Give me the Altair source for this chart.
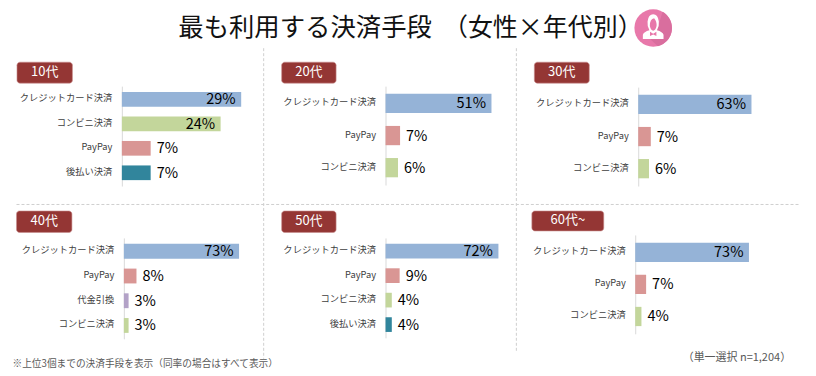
import altair as alt
import pandas as pd

FONT = "Noto Sans CJK JP"

# ---- data values ----
ages = ["10代", "20代", "30代", "40代", "50代", "60代~"]
cats_10 = ["クレジットカード決済", "コンビニ決済", "PayPay", "後払い決済"]
vals_10 = [29, 24, 7, 7]
cats_20 = ["クレジットカード決済", "PayPay", "コンビニ決済"]
vals_20 = [51, 7, 6]
cats_30 = ["クレジットカード決済", "PayPay", "コンビニ決済"]
vals_30 = [63, 7, 6]
cats_40 = ["クレジットカード決済", "PayPay", "代金引換", "コンビニ決済"]
vals_40 = [73, 8, 3, 3]
cats_50 = ["クレジットカード決済", "PayPay", "コンビニ決済", "後払い決済"]
vals_50 = [72, 9, 4, 4]
cats_60 = ["クレジットカード決済", "PayPay", "コンビニ決済"]
vals_60 = [73, 7, 4]
series = [(cats_10, vals_10), (cats_20, vals_20), (cats_30, vals_30),
          (cats_40, vals_40), (cats_50, vals_50), (cats_60, vals_60)]

colors = {"クレジットカード決済": "#95B3D7", "コンビニ決済": "#C3D69B", "PayPay": "#D99694",
          "後払い決済": "#31859C", "代金引換": "#B3A2C7"}

title_main = "最も利用する決済手段"
title_sub = "（女性×年代別）"
note_left = "※上位3個までの決済手段を表示（同率の場合はすべて表示）"
note_right = "（単一選択 n=1,204）"

# ---- layout (page pixels of the reference) ----
# panel: axis x, axis top, axis bottom, pixels per percent, badge x0, x1, y0, y1
layout = [
    (121.5, 85, 185, 4.12, 16.5, 72, 61, 82),
    (385.5, 85, 184, 2.08, 281.5, 336, 61, 82),
    (638.0, 86, 185, 1.80, 534, 589, 61, 82),
    (124.0, 237, 338, 1.58, 16.5, 72, 210, 231.5),
    (385.5, 237, 337, 1.57, 281.5, 336, 210, 231.5),
    (635.5, 234, 333, 1.56, 532, 604, 210, 230),
]
ROW_TOP = [85, 230]
ROW_H = [100, 110]
ROW_RIGHT = 800
one = alt.Data(values=[{"a": 1}])


def deco_text(text, x, y, size, color, align="left", weight=400):
    return alt.Chart(one).mark_text(font=FONT, fontSize=size, color=color, align=align,
                                    baseline="middle", fontWeight=weight).encode(
        x=alt.value(x), y=alt.value(y), text=alt.value(text))


def deco_rule(x1, y1, x2, y2):
    return alt.Chart(one).mark_rule(color="#CFCFCF", strokeDash=[3, 2], strokeWidth=1).encode(
        x=alt.value(x1), y=alt.value(y1), x2=alt.value(x2), y2=alt.value(y2))


def panel(i, panel_width, row):
    cats, vals = series[i]
    ax, top, bottom, rate, bx0, bx1, by0, by1 = layout[i]
    ox, oy = ax, ROW_TOP[row]
    df = pd.DataFrame({"cat": cats, "val": vals, "label": [f"{v}%" for v in vals],
                       "color": [colors[c] for c in cats]})
    x = alt.X("val:Q", axis=None, scale=alt.Scale(domain=[0, panel_width / rate], nice=False))
    y = alt.Y("cat:N", sort=cats, title=None,
              scale=alt.Scale(domain=cats, range=[top - oy, bottom - oy],
                              paddingInner=0.4, paddingOuter=0.24),
              axis=alt.Axis(ticks=False, labelFont=FONT, labelFontSize=9.3, labelColor="#404040",
                            labelPadding=10, labelOffset=-1, domainColor="#D9D9D9", domainWidth=1,
                            grid=False, labelLimit=200))
    base = alt.Chart(alt.Data(values=df.to_dict("records")))
    bars = base.mark_bar(clip=False).encode(x=x, y=y, color=alt.Color("color:N", scale=None))
    inside = base.transform_filter("datum.val >= 20").mark_text(
        font=FONT, fontSize=14.5, color="#000000", align="right", dx=-5.5, dy=1).encode(
        x=x, y=y, text="label:N")
    outside = base.transform_filter("datum.val < 20").mark_text(
        font=FONT, fontSize=14.5, color="#000000", align="left", dx=6, dy=1).encode(
        x=x, y=y, text="label:N")
    badge = alt.Chart(one).mark_rect(color="#943634", cornerRadius=3, stroke="#C98F8E",
                                     strokeWidth=0.6).encode(
        x=alt.value(bx0 - ox), x2=alt.value(bx1 - ox),
        y=alt.value(by0 - oy), y2=alt.value(by1 - oy))
    badge_t = deco_text(ages[i], (bx0 + bx1) / 2 - ox, (by0 + by1) / 2 - oy - 1, 13, "#FFFFFF", "center")
    layers = [bars, inside, outside, badge, badge_t]

    if i == 0:
        P = lambda px: px - ox
        Q = lambda py: py - oy
        anchor = alt.Chart(one).mark_rect(opacity=0).encode(
            x=alt.value(P(8)), x2=alt.value(P(808)), y=alt.value(Q(8)), y2=alt.value(Q(368)))
        cx, cy = P(653.5), Q(26.8)

        def icon(path, color):
            return alt.Chart(one).mark_point(shape=path, filled=True, opacity=1, color=color,
                                             strokeWidth=0, size=1414).encode(
                x=alt.value(cx), y=alt.value(cy))

        layers = [
            anchor,
            deco_rule(P(263.5), Q(47), P(263.5), Q(358)),
            deco_rule(P(516.5), Q(47), P(516.5), Q(350)),
            deco_rule(P(16), Q(203.5), P(801), Q(203.5)),
            deco_text(title_main, P(178), Q(27), 25.4, "#111111"),
            deco_text(title_sub, P(443), Q(27), 25, "#111111"),
            deco_text(note_left, P(12), Q(363), 9.7, "#595959"),
            deco_text(note_right, P(683), Q(357), 11, "#595959"),
            icon("circle", "#E878AA"),
            icon("M0.5,-0.866 A1,1 0 0 1 0.25,0.968 L-0.25,0.5 L0.3,-0.2 Z", "#D96E9E"),
            icon("M-0.55,0.58 L-0.55,0.36 Q-0.5,0.2 -0.2,0.12 Q-0.33,-0.1 -0.3,-0.35 "
                 "Q-0.25,-0.73 0,-0.73 Q0.25,-0.73 0.3,-0.35 Q0.33,-0.1 0.2,0.12 "
                 "Q0.5,0.2 0.55,0.36 L0.55,0.58 Z", "#FFFFFF"),
            icon("M-0.18,-0.1 Q-0.18,-0.5 0.05,-0.52 Q0.2,-0.35 0.18,-0.1 "
                 "Q0.12,0.14 0,0.14 Q-0.12,0.14 -0.18,-0.1 Z", "#E878AA"),
            icon("M-0.17,0.2 L0,0.3 L0.17,0.2 L0.17,0.42 L0,0.34 L-0.17,0.42 Z", "#E878AA"),
        ] + layers
    return alt.layer(*layers).resolve_scale(x="shared", y="shared").properties(
        width=panel_width, height=ROW_H[row])


# an empty narrow cell moves the second row's axes to their own x
spacer = alt.Chart(one).mark_point(opacity=0).encode(
    x=alt.value(0), y=alt.value(0)
).properties(width=2, height=ROW_H[1])

row1 = alt.hconcat(panel(0, layout[1][0] - layout[0][0], 0),
                   panel(1, layout[2][0] - layout[1][0], 0),
                   panel(2, ROW_RIGHT - layout[2][0] - 40, 0),
                   spacing=0, bounds="flush")
row2 = alt.hconcat(spacer,
                   panel(3, layout[4][0] - layout[3][0], 1),
                   panel(4, layout[5][0] - layout[4][0], 1),
                   panel(5, ROW_RIGHT - layout[5][0] - 40, 1),
                   spacing=0, bounds="flush")
chart = alt.vconcat(row1, row2, spacing=ROW_TOP[1] - ROW_TOP[0], bounds="flush").properties(
    padding=0, background="white"
).configure_view(stroke=None).configure_concat(spacing=0)

chart.save("out.html", embed_options={"renderer": "svg", "actions": False})
